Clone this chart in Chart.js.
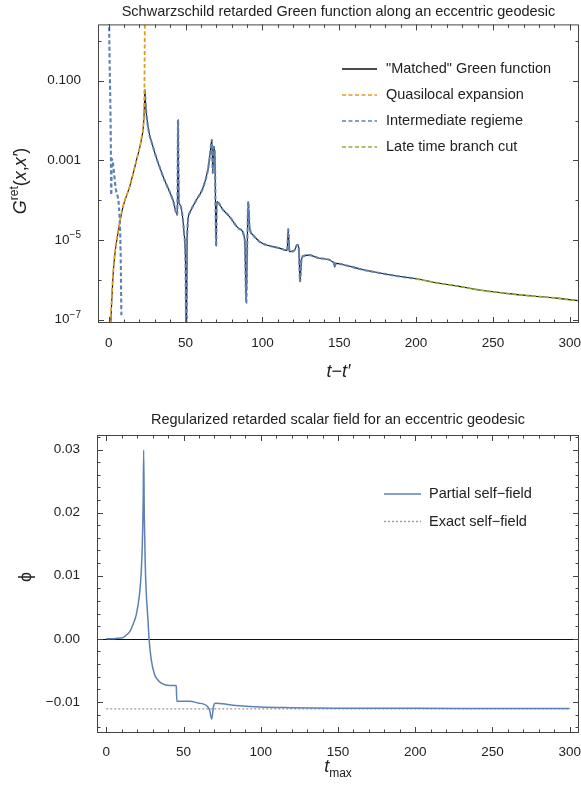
<!DOCTYPE html>
<html>
<head>
<meta charset="utf-8">
<script src="https://cdn.jsdelivr.net/npm/chart.js@4/dist/chart.umd.min.js"></script>
<style>
  body { margin: 0; background: #fff; }
  .box { position: absolute; left: 0; width: 581px; }
</style>
</head>
<body>
<div class="box" style="top:0;height:385px"><canvas id="green"></canvas></div>
<div class="box" style="top:385px;height:404px"><canvas id="field"></canvas></div>
<script>
// ---- top panel: retarded Green function, G vs t - t'
const tTicks = [0, 50, 100, 150, 200, 250, 300];
const gTicks = [0.1, 0.001, 1e-5, 1e-7];
const gTickLabels = ['0.100', '0.001', '10^\u22125', '10^\u22127'];
const gDecades = [1, 0.1, 0.01, 0.001, 1e-4, 1e-5, 1e-6, 1e-7];

// "Matched" Green function
const matchedT = [1.2, 2.0, 2.8, 4.0, 6.0, 9.3, 13.6, 18.0, 21.2, 22.8, 23.3, 23.5, 24.0, 25.5, 28.8,
  35.3, 41.8, 44.6, 45.1, 45.6, 46.2, 49.0, 50.0, 50.5, 51.0, 52.5, 56.9, 61.2, 64.5, 66.0, 67.1,
  67.7, 68.4, 69.0, 69.9, 70.3, 74.0, 78.6, 85.1, 88.5, 89.5, 90.1, 90.8, 91.6, 93.8, 98.1, 104.6,
  111.1, 116.1, 116.8, 117.6, 120.9, 122.6, 123.6, 124.5, 125.4, 126.7, 130.7, 137.2, 146.5, 147.0,
  147.5, 154.7, 165.5, 176.3, 187.1, 200.1, 213.1, 226.2, 241.3, 258.7, 273.9, 291.3, 306];
const matchedG = [6.3e-8, 3.2e-7, 1.3e-6, 4.5e-6, 1.5e-5, 6.9e-5, 2.2e-4, 1.0e-3, 3.3e-3, 1.0e-2, 3.2e-2, 6.0e-2, 2.5e-2, 7.1e-3, 2.2e-3,
  4.0e-4, 1.0e-4, 4.3e-5, 1.05e-2, 9.3e-5, 7.9e-5, 1.5e-5, 2.0e-6, 1e-8, 1.2e-5, 4.7e-5, 1.0e-4, 2.0e-4, 5.8e-4, 1.5e-3, 3.3e-3,
  4.8e-4, 2.2e-3, 1.5e-3, 6.9e-6, 9.3e-5, 6.0e-5, 3.9e-5, 1.9e-5, 1.0e-5, 2.6e-7, 6.9e-6, 9.3e-5, 2.2e-5, 1.35e-5, 9.1e-6, 7.2e-6,
  6.3e-6, 5.5e-6, 1.9e-5, 5.1e-6, 5.6e-6, 7.6e-6, 6.6e-6, 9.1e-7, 3.2e-6, 4.0e-6, 4.2e-6, 3.5e-6, 2.7e-6, 2.1e-6,
  2.6e-6, 2.3e-6, 1.8e-6, 1.5e-6, 1.26e-6, 1.07e-6, 8.5e-7, 7.1e-7, 5.6e-7, 4.6e-7, 4.0e-7, 3.5e-7, 3.0e-7];

// Quasilocal expansion (diverges near the first caustic)
const quasiT = [0.5, 1.2, 2.0, 2.8, 4.0, 6.0, 9.3, 13.6, 18.0, 21.2, 22.8, 23.2, 23.5];
const quasiG = [2.5e-8, 1.0e-7, 4.0e-7, 1.4e-6, 5.0e-6, 1.6e-5, 7.1e-5, 2.2e-4, 1.0e-3, 3.5e-3, 1.26e-2, 6.3e-2, 4.0];

// Intermediate regime, early-time piece (the rest follows the matched curve)
const earlyT = [0.2, 0.6, 1.0, 1.3, 1.6, 2.0, 4.5, 7.0, 7.8, 8.2];
const earlyG = [3.2, 0.25, 0.032, 4.0e-3, 1.35e-4, 1.1e-3, 2.0e-4, 4.0e-5, 3.2e-6, 1.3e-7];
const midFrom = 23.5, lateFrom = 200;

// ---- bottom panel: regularized field phi vs t_max
const phiTicks = [-0.01, 0, 0.01, 0.02, 0.03];
const phiTickLabels = ['\u22120.01', '0.00', '0.01', '0.02', '0.03'];
const phiT = [0, 5, 8, 10.8, 13, 15.1, 17.5, 19.4, 21.5, 22.5, 23.3, 23.9, 24.2, 24.6, 25.2, 25.9, 27, 27.7,
  29.1, 31.3, 33, 35.6, 41, 44.9, 45.3, 45.7, 48, 54, 60, 62.6, 65.8, 67.0, 68.2, 69.5, 70.6, 75, 86.3,
  100, 118.7, 150, 200, 250, 300];
const phiV = [0, 0.00002, 0.0001, 0.0002, 0.0006, 0.0011, 0.0024, 0.0038, 0.0070, 0.0100, 0.0146, 0.022, 0.0299, 0.0199, 0.012, 0.0072, 0.0030, 0,
  -0.0033, -0.0057, -0.0064, -0.0070, -0.0074, -0.0074, -0.0075, -0.0099, -0.0099, -0.0099, -0.0102, -0.0103, -0.0108, -0.0114, -0.0127, -0.0106, -0.0102, -0.0103, -0.0106,
  -0.0108, -0.0109, -0.01098, -0.01101, -0.01103, -0.01105];
const exactT = [0, 300];
const exactV = [-0.0111, -0.0111];

const FONT = "'Liberation Sans', Arial, sans-serif";
Chart.defaults.font.family = FONT;
Chart.defaults.color = '#222';

const pts = (xs, ys) => xs.map((x, i) => ({ x: x, y: ys[i] }));
const matched = pts(matchedT, matchedG);

function everyTen() {
  const out = [];
  for (let v = 0; v <= 300; v += 10) out.push(v);
  return out;
}

// text made of runs with their own font and vertical shift; align 'center' or 'right' on (0, 0)
function drawRuns(ctx, runs, align) {
  let w = 0;
  runs.forEach(r => { ctx.font = r.f; w += ctx.measureText(r.t).width; });
  let x = align === 'right' ? -w : -w / 2;
  runs.forEach(r => {
    ctx.font = r.f;
    ctx.fillText(r.t, x, r.dy || 0);
    x += ctx.measureText(r.t).width;
  });
}

function framePlugin(cfg) {
  return {
    id: 'frame',
    beforeDatasetsDraw(chart) {
      if (!cfg.zeroLine) return;
      const { ctx, chartArea: a, scales: { y } } = chart;
      const py = Math.round(y.getPixelForValue(0)) + 0.5;
      ctx.save();
      ctx.strokeStyle = '#111';
      ctx.lineWidth = 1.2;
      ctx.beginPath();
      ctx.moveTo(a.left, py);
      ctx.lineTo(a.right, py);
      ctx.stroke();
      ctx.restore();
    },
    afterDraw(chart) {
      const { ctx, chartArea: a, scales: { x, y } } = chart;
      ctx.save();
      ctx.strokeStyle = '#444';
      ctx.lineWidth = 1;
      ctx.strokeRect(a.left + 0.5, a.top + 0.5, a.width - 1, a.height - 1);
      ctx.beginPath();
      cfg.xMinor.forEach(v => {
        const px = Math.round(x.getPixelForValue(v)) + 0.5;
        const len = tTicks.includes(v) ? 6 : 3.5;
        ctx.moveTo(px, a.bottom); ctx.lineTo(px, a.bottom - len);
        ctx.moveTo(px, a.top); ctx.lineTo(px, a.top + len);
      });
      cfg.yMinor.forEach(v => {
        const py = Math.round(y.getPixelForValue(v)) + 0.5;
        const len = cfg.yMajor.some(m => Math.abs(m - v) < 1e-12) ? 6 : 3.5;
        ctx.moveTo(a.left, py); ctx.lineTo(a.left + len, py);
        ctx.moveTo(a.right, py); ctx.lineTo(a.right - len, py);
      });
      ctx.stroke();

      ctx.fillStyle = '#222';
      ctx.textAlign = 'left';

      // y tick labels with powers of ten ("10^-5" -> 10 with a raised exponent)
      if (cfg.yLabels) {
        ctx.textBaseline = 'middle';
        cfg.yMajor.forEach((v, i) => {
          const parts = cfg.yLabels[i].split('^');
          const runs = [{ t: parts[0], f: '13.5px ' + FONT }];
          if (parts[1]) runs.push({ t: parts[1], f: '10px ' + FONT, dy: -5 });
          ctx.save();
          ctx.translate(a.left - 17, y.getPixelForValue(v));
          drawRuns(ctx, runs, 'right');
          ctx.restore();
        });
      }

      // legend, taken from the datasets themselves
      const L = cfg.legend;
      ctx.font = '14.5px ' + FONT;
      ctx.textBaseline = 'middle';
      chart.data.datasets.forEach((ds, i) => {
        const ly = L.y + i * L.gap;
        ctx.strokeStyle = ds.borderColor;
        ctx.lineWidth = 1.4;
        ctx.setLineDash(ds.borderDash || []);
        ctx.beginPath();
        ctx.moveTo(L.x0, ly); ctx.lineTo(L.x1, ly);
        ctx.stroke();
        ctx.setLineDash([]);
        ctx.fillText(ds.label, L.tx, ly);
      });

      // axis titles
      ctx.textBaseline = 'alphabetic';
      ctx.save();
      ctx.translate(cfg.yTitle.x, cfg.yTitle.y);
      if (cfg.yTitle.rot) ctx.rotate(-Math.PI / 2);
      drawRuns(ctx, cfg.yTitle.runs);
      ctx.restore();
      ctx.save();
      ctx.translate((a.left + a.right) / 2, cfg.xTitle.y);
      drawRuns(ctx, cfg.xTitle.runs);
      ctx.restore();
      ctx.restore();
    }
  };
}

const IT = 'italic 18px ' + FONT, UP = '18px ' + FONT, SM = '12px ' + FONT;

// no extra room for the end tick labels: the frame runs to the canvas edge
const noPadX = s => { s.paddingLeft = 0; s.paddingRight = 0; };
const noPadY = s => { s.paddingTop = 0; s.paddingBottom = 0; };

new Chart(document.getElementById('green'), {
  type: 'line',
  data: {
    datasets: [
      { label: '"Matched" Green function', data: matched, borderColor: '#111', borderWidth: 1.1, order: 3 },
      { label: 'Quasilocal expansion', data: pts(quasiT, quasiG), borderColor: '#E19C24', borderWidth: 1.8, borderDash: [4, 2.5], order: 1 },
      { label: 'Intermediate regieme',
        data: pts(earlyT, earlyG).concat([{ x: 15, y: null }], matched.filter(p => p.x >= midFrom && p.x <= lateFrom + 0.2)),
        borderColor: '#5E81B5', borderWidth: 2.1, borderDash: [4, 2.5], order: 2 },
      { label: 'Late time branch cut', data: matched.filter(p => p.x >= lateFrom), borderColor: '#8FB032', borderWidth: 1.9, borderDash: [4, 2.5], order: 0 }
    ]
  },
  options: {
    responsive: true,
    maintainAspectRatio: false,
    animation: false,
    spanGaps: false,
    layout: { padding: { right: 2 } },
    elements: { point: { radius: 0 }, line: { cubicInterpolationMode: 'monotone' } },
    plugins: {
      legend: { display: false },
      tooltip: { enabled: false },
      title: {
        display: true, fullSize: false,
        text: 'Schwarzschild retarded Green function along an eccentric geodesic',
        font: { size: 14.5, weight: 'normal' }, color: '#222', padding: { top: 3.5, bottom: 3.5 }
      }
    },
    scales: {
      x: {
        type: 'linear', min: -7, max: 306,
        afterFit: s => { s.height = 62; noPadX(s); },
        afterBuildTicks: s => { s.ticks = tTicks.map(v => ({ value: v })); },
        ticks: { font: { size: 13.5 }, padding: 12, maxRotation: 0 },
        grid: { display: false, drawTicks: false }, border: { display: false }
      },
      y: {
        type: 'logarithmic', min: 8.3e-8, max: 2.6,
        afterFit: s => { s.width = 98; noPadY(s); },
        afterBuildTicks: s => { s.ticks = gTicks.map(v => ({ value: v })); },
        ticks: { display: false },
        grid: { display: false, drawTicks: false }, border: { display: false }
      }
    }
  },
  plugins: [framePlugin({
    xMinor: everyTen(), yMajor: gTicks, yMinor: gDecades, yLabels: gTickLabels,
    legend: { x0: 342, x1: 377, tx: 386, y: 69, gap: 26 },
    yTitle: { x: 26, y: 181, rot: true, runs: [
      { t: 'G', f: IT }, { t: 'ret', f: SM, dy: -8 }, { t: '(', f: UP }, { t: 'x', f: IT },
      { t: ',', f: UP }, { t: 'x\u2032', f: IT }, { t: ')', f: UP }] },
    xTitle: { y: 377, runs: [{ t: 't', f: IT }, { t: '\u2212', f: UP }, { t: 't\u2032', f: IT }] }
  })]
});

new Chart(document.getElementById('field'), {
  type: 'line',
  data: {
    datasets: [
      { label: 'Partial self\u2212field', data: pts(phiT, phiV), borderColor: '#5E81B5', borderWidth: 1.5, order: 0 },
      { label: 'Exact self\u2212field', data: pts(exactT, exactV), borderColor: '#999', borderWidth: 1.2, borderDash: [2, 2], order: 1 }
    ]
  },
  options: {
    responsive: true,
    maintainAspectRatio: false,
    animation: false,
    layout: { padding: { right: 2 } },
    elements: { point: { radius: 0 }, line: { cubicInterpolationMode: 'monotone' } },
    plugins: {
      legend: { display: false },
      tooltip: { enabled: false },
      title: {
        display: true, fullSize: false,
        text: 'Regularized retarded scalar field for an eccentric geodesic',
        font: { size: 14.5, weight: 'normal' }, color: '#222', padding: { top: 26, bottom: 6.6 }
      }
    },
    scales: {
      x: {
        type: 'linear', min: -6, max: 306,
        afterFit: s => { s.height = 56; noPadX(s); },
        afterBuildTicks: s => { s.ticks = tTicks.map(v => ({ value: v })); },
        ticks: { font: { size: 13.5 }, padding: 11, maxRotation: 0 },
        grid: { display: false, drawTicks: false }, border: { display: false }
      },
      y: {
        type: 'linear', min: -0.01492, max: 0.0323,
        afterFit: s => { s.width = 97; noPadY(s); },
        afterBuildTicks: s => { s.ticks = phiTicks.map(v => ({ value: v })); },
        ticks: { font: { size: 13.5 }, padding: 17, callback: (v) => phiTickLabels[phiTicks.indexOf(v)] },
        grid: { display: false, drawTicks: false }, border: { display: false }
      }
    }
  },
  plugins: [framePlugin({
    zeroLine: true,
    xMinor: everyTen(), yMajor: phiTicks,
    yMinor: [-0.014, -0.012, -0.01, -0.008, -0.006, -0.004, -0.002, 0, 0.002, 0.004, 0.006, 0.008, 0.01,
      0.012, 0.014, 0.016, 0.018, 0.02, 0.022, 0.024, 0.026, 0.028, 0.03, 0.032],
    legend: { x0: 384, x1: 421, tx: 429, y: 109, gap: 27.5 },
    yTitle: { x: 31, y: 192, rot: true, runs: [{ t: '\u03D5', f: UP }] },
    xTitle: { y: 387, runs: [{ t: 't', f: IT }, { t: 'max', f: SM, dy: 5 }] }
  })]
});
</script>
</body>
</html>
